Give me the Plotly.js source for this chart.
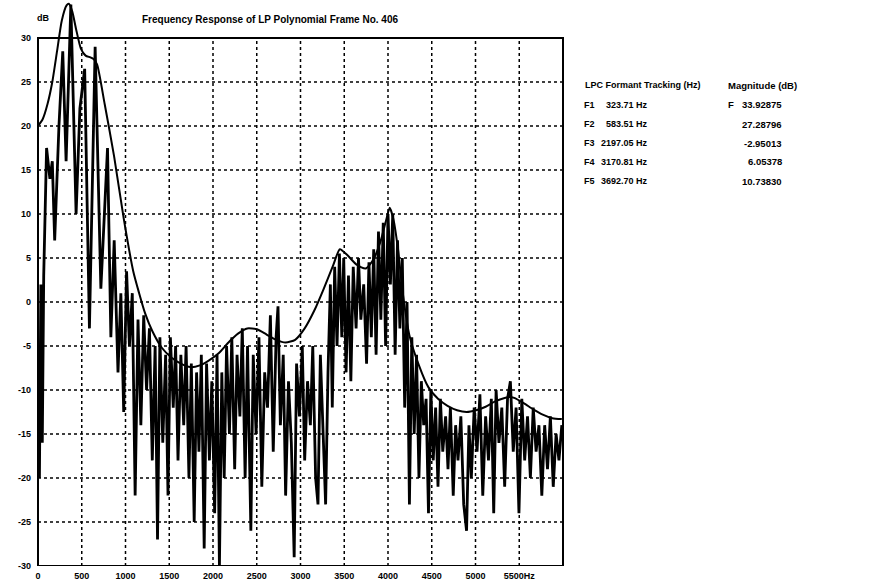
<!DOCTYPE html>
<html>
<head>
<meta charset="utf-8">
<script src="https://cdn.plot.ly/plotly-3.0.1.min.js"></script>
<style>html,body{margin:0;padding:0;background:#fff;}#chart{width:876px;height:584px;}</style>
</head>
<body>
<div id="chart"></div>
<script>
// ---------- DATA ----------
const specFreq = [0,15,30,45,60,90,125,150,175,220,260,295,345,400,440,490,540,600,660,730,765,800,840,870,900,930,960,990,1020,
1050,1080,1110,1140,1170,1200,1230,1255,1280,1310,1340,1365,1390,1420,1445,1470,1500,1530,1555,1585,1610,1640,1665,1690,1715,1745,1770,1800,1825,1855,1880,1905,1930,1955,1980,2010,
2035,2065,2090,2120,2145,2175,2200,2235,2260,2290,2320,2350,2380,2410,2440,2470,2500,2520,2545,2575,2600,2630,2660,2690,2715,2745,2775,2800,2830,2860,2885,2915,2940,2965,2995,3020,
3045,3070,3090,3115,3140,3165,3190,3210,3235,3260,3285,3310,3340,3365,3390,3420,3450,3475,3500,3525,3550,3575,3600,3625,3650,3675,3700,3725,3750,3775,3800,3825,3850,3875,3900,3925,3950,3975,4000,4025,4050,4075,4100,4125,4150,4175,4200,4225,4250,4280,4305,4330,4360,4385,4410,4440,4470,4500,4525,4550,4580,4610,4640,4670,4700,4730,4760,4785,4810,4840,4870,4900,4930,4960,4990,5020,5050,5080,5110,5140,5170,5200,5230,5260,5290,5320,5350,5380,5410,5440,5470,5500];
const specDb = [-5,-20,2,-16,3,17.5,14,16,7,20,28.5,16,33.8,10,22,26.5,-3,29,1.5,17.5,-4,7,-8,1,-12.5,3.5,-5,1,-22,
-2,-14,-1.5,-10,-3,-18,-5,-27,-4,-16,-6,-22,-4,-12,-5,-18,-6,-14,-5,-20,-7,-25,-8,-17,-6,-28,-7,-18,-9,-24,-6,-30,-8,-20,-5,-15,
-4,-19,-6,-13,-3,-20,-5,-26,-6,-15,-4,-21,-8,-12,-1.5,-17,-4,-0.5,-14,-6,-22,-9,-16,-29,-7,-13,-5,-18,-9,-14,-5,-20,-23,-6,-16,-23,
-8,2,-12,4,-5,5.5,-4,5,-8,3,-9,4,-3,5,-2,2,-7,4.5,-4,6,-6,8,-2,9,-5,10,2,10,-6,7,-3,5,-12,0,-23,-4,-15,-6,-20,-9,-14,-11,-24,-10,-18,-12,-21,-11,-17,-13,-19,-12,-22,-14,-18,-13,-23,-26,-14,-20,-12,-17,-10.5,-22,-13,-18,-11,-24,-10,-16,-12,-21,-11,-9,-17,-12,-24,-11,-18,-13,-20,-12,-17,-14,-22,-14,-19,-13,-21,-15,-18,-14];

const envFreq = [0,50,100,150,200,250,300,324,360,400,450,500,550,584,620,700,800,900,1000,1062,1125,1200,1300,1400,1500,1600,1700,1800,1900,2000,2100,2197,2300,2400,2500,2600,2700,2800,2900,3000,3100,3170,3250,3350,3440,3520,3600,3660,3693,3730,3780,3830,3900,4000,4100,4200,4300,4400,4500,4600,4700,4800,4900,4950,5000,5100,5200,5300,5400,5500];
const envDb = [20,20.8,22.5,25,28.5,32,33.7,33.9,33,31,28.8,28,27.8,27.6,27,22.5,16.5,9.5,3.5,1,-1.3,-3.3,-5.2,-6.3,-7,-7.4,-7.2,-6.6,-5.8,-4.6,-3.6,-3,-3.1,-3.7,-4.3,-4.6,-4.3,-3,-1,1.5,4.2,6,5.3,4.2,3.8,4.8,7,9.5,10.7,9.5,6,1,-3.8,-7.2,-9.7,-11,-11.8,-12.3,-12.5,-12.3,-11.9,-11.3,-10.9,-10.8,-10.9,-11.5,-12.2,-12.8,-13.2,-13.3];

// the printed frequency scale (labels/grid) does not line up with the data scale in the original
const xTicks = [0,500,1000,1500,2000,2500,3000,3500,4000,4500,5000,5500];
const xTickText = ['0','500','1000','1500','2000','2500','3000','3500','4000','4500','5000','5500Hz'];
const yTicks = [-30,-25,-20,-15,-10,-5,0,5,10,15,20,25,30];
const formantNames = ['F1','F2','F3','F4','F5'];
const formantHz = ['323.71 Hz','583.51 Hz','2197.05 Hz','3170.81 Hz','3692.70 Hz'];
const formantMag = ['33.92875','27.28796','-2.95013','6.05378','10.73830'];
const titleText = 'Frequency Response of LP Polynomial Frame No. 406';
const tableHeaders = ['LPC Formant Tracking (Hz)','Magnitude (dB)'];

// ---------- LAYOUT ----------
const L = 38, R = 563, T = 2, B = 566, W = 876, H = 584;
const DATA_MAX = 5512.5;      // data frequency range across the frame
const LABEL_MAX = 6000;       // printed label scale across the frame
const Y_TOP = 30 + (38 - T) / ((B - 38) / 60);
const px = x => (x - L) / (R - L);
const py = y => (B - y) / (B - T);
const FONT = 'Liberation Sans, Arial, sans-serif';
const f = (s) => ({family: FONT, size: s, color: '#000', weight: 'bold'});

const shapes = [];
xTicks.slice(1).forEach(v => shapes.push({type:'line', xref:'x2', yref:'y', x0:v, x1:v, y0:-30, y1:30,
  line:{color:'#000', width:1.5, dash:'dot'}, layer:'below'}));
yTicks.slice(1, -1).forEach(v => shapes.push({type:'line', xref:'paper', yref:'y', x0:0, x1:1, y0:v, y1:v,
  line:{color:'#000', width:1.5, dash:'dot'}, layer:'below'}));
shapes.push({type:'rect', xref:'paper', yref:'y', x0:0, x1:1, y0:-30, y1:30, line:{color:'#000', width:2}, layer:'above'});

const ann = [];
const A = (text, x, y, size, anchor) => ann.push({text:'<b>'+text+'</b>', xref:'paper', yref:'paper', x:px(x), y:py(y),
  showarrow:false, font:f(size), xanchor:anchor, yanchor:'middle'});
A(titleText, 270, 20, 10, 'center');
A('dB', 43, 18, 9, 'center');
A(tableHeaders[0], 583, 85, 9, 'left');
A(tableHeaders[1], 726, 85, 9.5, 'left');
const rowY = [105,124,143,162,181];
formantNames.forEach((n, i) => {
  A(n, 582, rowY[i], 9, 'left');
  A(formantHz[i], 650, rowY[i], 9, 'right');
  A(formantMag[i], 784, rowY[i], 9.5, 'right');
});
A('F', 726, rowY[0], 9.5, 'left');

const traces = [
  {x: specFreq, y: specDb, xaxis:'x', yaxis:'y', type:'scatter', mode:'lines', line:{color:'#000', width:2.8}, hoverinfo:'skip'},
  {x: envFreq, y: envDb, xaxis:'x', yaxis:'y', type:'scatter', mode:'lines', line:{color:'#000', width:2, shape:'spline', smoothing:0.6}, hoverinfo:'skip'}
];

const layout = {
  width: W, height: H,
  margin: {l: L, r: W - R, t: T, b: H - B, pad: 0},
  paper_bgcolor: '#fff', plot_bgcolor: '#fff',
  showlegend: false,
  xaxis: {range:[0, DATA_MAX], showticklabels:false, showgrid:false, zeroline:false, showline:false, ticks:''},
  xaxis2: {range:[0, LABEL_MAX], overlaying:'x', anchor:'y', side:'bottom', tickvals:xTicks,
           ticktext:xTickText.map(t=>'<b>'+t+'</b>'), showgrid:false, zeroline:false, showline:false, ticks:'',
           tickfont:f(9), ticklabelstandoff:3},
  yaxis: {range:[-30, Y_TOP], tickvals:yTicks, ticktext:yTicks.map(t=>'<b>'+t+'</b>'), showgrid:false, zeroline:false,
          showline:false, ticks:'', tickfont:f(9), ticklabelstandoff:6},
  shapes: shapes,
  annotations: ann
};

Plotly.newPlot('chart', traces, layout, {staticPlot:true, displayModeBar:false});
</script>
</body>
</html>
